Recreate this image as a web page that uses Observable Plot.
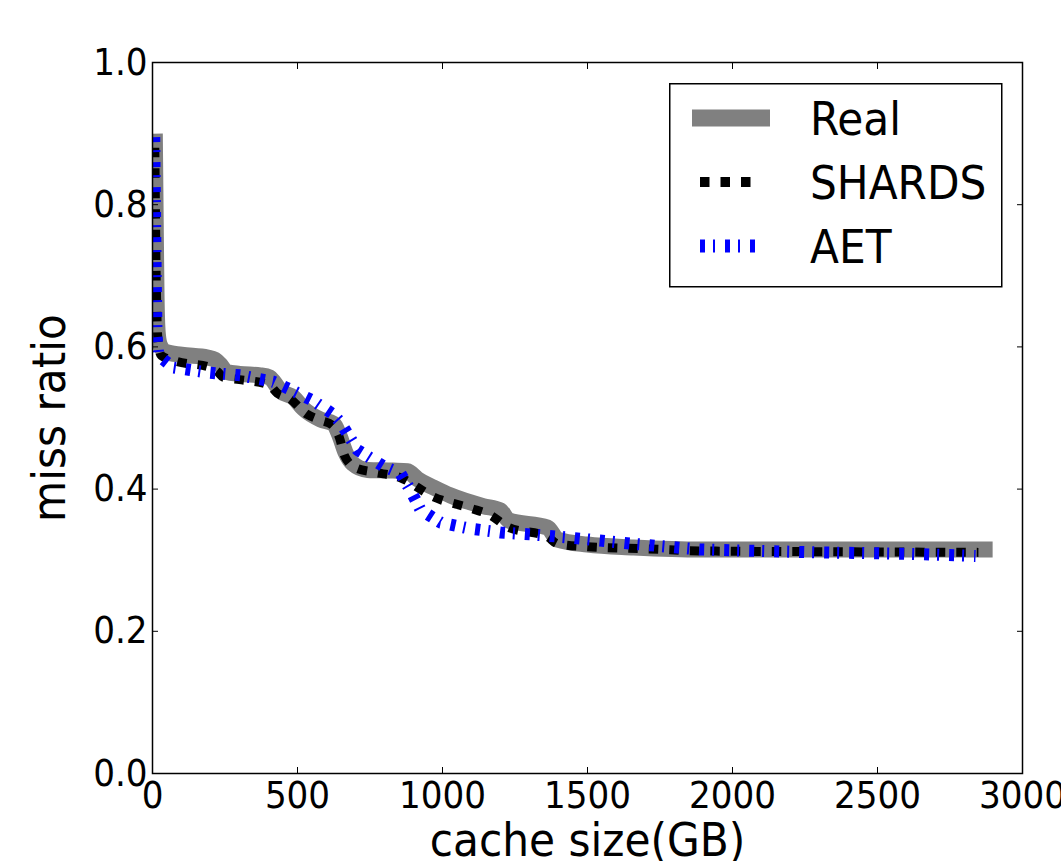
<!DOCTYPE html>
<html><head><meta charset="utf-8">
<script src="https://cdn.jsdelivr.net/npm/d3@7"></script>
<script src="https://cdn.jsdelivr.net/npm/@observablehq/plot@0.6"></script>
<style>
body{margin:0;background:#fff;}
#wrap{position:relative;width:1061px;height:861px;overflow:hidden;background:#fff;}
#legend{position:absolute;left:669px;top:83px;}
</style></head><body><div id="wrap"></div>
<script>
const FONT = '"DejaVu Sans Condensed", "DejaVu Sans", sans-serif';
const xTicks = [0, 500, 1000, 1500, 2000, 2500, 3000];
const yTicks = [0, 0.2, 0.4, 0.6, 0.8, 1.0];
const seriesNames = ["Real", "SHARDS", "AET"];

const realX = [8, 10, 12, 14, 18, 25, 45, 100, 190, 215, 234, 255, 300, 372, 405, 420, 441, 486, 521, 579, 624, 645, 665, 690, 741, 830, 879, 914, 970, 1028, 1141, 1200, 1228, 1362, 1397, 1500, 1659, 1890, 2200, 2600, 2897];
const realY = [0.90, 0.82, 0.74, 0.67, 0.62, 0.603, 0.593, 0.589, 0.585, 0.582, 0.575, 0.565, 0.562, 0.560, 0.557, 0.550, 0.538, 0.529, 0.513, 0.498, 0.492, 0.475, 0.452, 0.436, 0.427, 0.426, 0.425, 0.414, 0.402, 0.391, 0.376, 0.370, 0.356, 0.346, 0.329, 0.322, 0.318, 0.315, 0.315, 0.315, 0.315];

const shardsX = [8, 10, 12, 15, 20, 30, 80, 200, 225, 245, 300, 400, 430, 470, 534, 579, 620, 645, 662, 700, 760, 855, 969, 1097, 1166, 1224, 1362, 1397, 1500, 1700, 1900, 2300, 2848];
const shardsY = [0.88, 0.80, 0.72, 0.65, 0.605, 0.588, 0.580, 0.571, 0.565, 0.557, 0.554, 0.547, 0.535, 0.528, 0.505, 0.497, 0.490, 0.472, 0.447, 0.430, 0.424, 0.416, 0.389, 0.373, 0.363, 0.347, 0.333, 0.323, 0.319, 0.316, 0.313, 0.312, 0.311];

const aetX = [6, 8, 10, 12, 14, 20, 72, 190, 303, 417, 486, 555, 624, 648, 707, 797, 855, 890, 924, 993, 1086, 1200, 1314, 1431, 1659, 1890, 2300, 2600, 2838];
const aetY = [0.895, 0.82, 0.74, 0.67, 0.615, 0.588, 0.571, 0.564, 0.560, 0.551, 0.538, 0.524, 0.505, 0.494, 0.455, 0.432, 0.422, 0.398, 0.371, 0.353, 0.345, 0.339, 0.336, 0.332, 0.323, 0.315, 0.311, 0.309, 0.306];

const rows = (name, xs, ys) => xs.map((x, i) => ({name, x, y: ys[i]}));
const real = rows(seriesNames[0], realX, realY);
const shards = rows(seriesNames[1], shardsX, shardsY);
const aet = rows(seriesNames[2], aetX, aetY);

const styles = {
  Real: {stroke: "#808080", strokeWidth: 16, dash: null},
  SHARDS: {stroke: "#000000", strokeWidth: 9, dash: "9.5,11"},
  AET: {stroke: "#0000ff", strokeWidth: 12, dash: "5,8,2,10"}
};
const noLabel = () => "";

const plot = Plot.plot({
  width: 1061, height: 861,
  marginLeft: 152, marginRight: 39, marginTop: 62, marginBottom: 88,
  style: {fontFamily: FONT, fontStretch: "condensed", color: "#000", background: "#fff"},
  x: {domain: [0, 3000]},
  y: {domain: [0, 1]},
  marks: [
    Plot.line(real, {x: "x", y: "y", curve: "monotone-x", stroke: styles.Real.stroke, strokeWidth: styles.Real.strokeWidth, strokeLinejoin: "round", strokeLinecap: "butt", clip: "frame"}),
    Plot.line(shards, {x: "x", y: "y", curve: "monotone-x", stroke: styles.SHARDS.stroke, strokeWidth: styles.SHARDS.strokeWidth, strokeDasharray: styles.SHARDS.dash, strokeLinejoin: "round", strokeLinecap: "butt", clip: "frame"}),
    Plot.line(aet, {x: "x", y: "y", stroke: styles.AET.stroke, strokeWidth: styles.AET.strokeWidth, strokeDasharray: styles.AET.dash, strokeLinejoin: "miter", strokeLinecap: "butt", clip: "frame"}),
    Plot.frame({stroke: "#000", strokeWidth: 1.5}),
    Plot.axisX({ticks: xTicks, tickSize: 6, dy: -6, tickFormat: noLabel, label: null}),
    Plot.axisX({anchor: "top", ticks: xTicks, tickSize: 6, dy: 6, tickFormat: noLabel, label: null}),
    Plot.axisY({ticks: yTicks, tickSize: 6, dx: 6, tickFormat: noLabel, label: null}),
    Plot.axisY({anchor: "right", ticks: yTicks, tickSize: 6, dx: -6, tickFormat: noLabel, label: null}),
    Plot.axisX({ticks: xTicks, tickSize: 0, tickPadding: 8, tickFormat: d3.format("d"), fontSize: 38, label: null}),
    Plot.axisY({ticks: yTicks, tickSize: 0, tickPadding: 5, tickFormat: d3.format(".1f"), fontSize: 38, label: null}),
    Plot.text(["cache size(GB)"], {text: d => d, frameAnchor: "bottom", dy: 82, lineAnchor: "bottom", fontSize: 47}),
    Plot.text(["miss ratio"], {text: d => d, frameAnchor: "left", textAnchor: "middle", dx: -103, rotate: -90, lineAnchor: "middle", fontSize: 47})
  ]
});
const wrap = document.getElementById("wrap");
wrap.appendChild(plot);

// Legend
const lg = d3.select(wrap).append("div").attr("id", "legend")
  .append("svg").attr("width", 334).attr("height", 205)
  .style("font-family", FONT).style("font-stretch", "condensed");
lg.append("rect").attr("x", 0.75).attr("y", 0.75).attr("width", 332).attr("height", 203)
  .attr("fill", "#fff").attr("stroke", "#000").attr("stroke-width", 1.5);
const legendRows = [
  {name: "Real", y: 35, x1: 23, x2: 101},
  {name: "SHARDS", y: 99, x1: 31, x2: 83},
  {name: "AET", y: 163, x1: 31, x2: 86}
];
legendRows.forEach(r => {
  const s = styles[r.name];
  lg.append("line").attr("x1", r.x1).attr("x2", r.x2).attr("y1", r.y).attr("y2", r.y)
    .attr("stroke", s.stroke).attr("stroke-width", r.name === "Real" ? 17 : (r.name === "SHARDS" ? 10 : 13))
    .attr("stroke-dasharray", s.dash);
  lg.append("text").attr("x", 141).attr("y", r.y).attr("dy", "0.36em")
    .attr("font-size", 47).attr("fill", "#000").text(r.name);
});
</script>
</body></html>
